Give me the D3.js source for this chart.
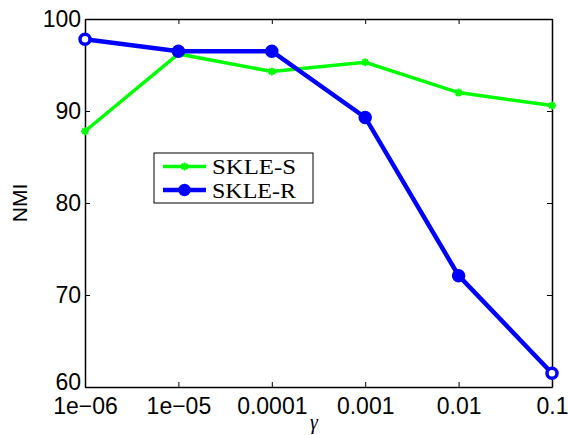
<!DOCTYPE html>
<html>
<head>
<meta charset="utf-8">
<script src="https://cdn.jsdelivr.net/npm/d3@7"></script>
<style>
  body { margin: 0; background: #fff; }
  svg { display: block; }
</style>
</head>
<body>
<svg width="568" height="435"></svg>
<script>
// 데이터
const gammas = [1e-6, 1e-5, 1e-4, 1e-3, 1e-2, 1e-1];
const tickLabels = ["1e\u221206", "1e\u221205", "0.0001", "0.001", "0.01", "0.1"];
const skleS = [87.8, 96.2, 94.3, 95.3, 92.0, 90.6];
const skleR = [97.8, 96.5, 96.5, 89.3, 72.1, 61.5];
const yTicks = [60, 70, 80, 90, 100];

const svg = d3.select("svg");
const m = { left: 85, top: 19, right: 552, bottom: 387 };

const x = d3.scaleLog().domain([1e-6, 1e-1]).range([m.left, m.right]);
const y = d3.scaleLinear().domain([60, 100]).range([m.bottom, m.top]);

// 축 (안쪽 눈금)
const font = "'Liberation Sans', Arial, sans-serif";
const serif = "'Liberation Serif', 'Times New Roman', serif";
const xAxis = svg.append("g").attr("transform", `translate(0,${m.bottom})`)
  .call(d3.axisBottom(x).tickValues(gammas).tickFormat((d, i) => tickLabels[i])
    .tickSizeInner(-5).tickSizeOuter(0).tickPadding(11));
const xTop = svg.append("g").attr("transform", `translate(0,${m.top})`)
  .call(d3.axisTop(x).tickValues(gammas).tickFormat("").tickSizeInner(-5).tickSizeOuter(0));
const yAxis = svg.append("g").attr("transform", `translate(${m.left},0)`)
  .call(d3.axisLeft(y).tickValues(yTicks).tickSizeInner(-5).tickSizeOuter(0).tickPadding(4));
const yRight = svg.append("g").attr("transform", `translate(${m.right},0)`)
  .call(d3.axisRight(y).tickValues(yTicks).tickFormat("").tickSizeInner(-5).tickSizeOuter(0));

[xAxis, xTop, yAxis, yRight].forEach(g => {
  g.select(".domain").attr("stroke", "#000").attr("stroke-width", 1.5);
  g.selectAll(".tick line").attr("stroke", "#000");
  g.selectAll("text").attr("font-family", font).attr("font-size", 23).attr("fill", "#000");
});
yAxis.selectAll(".tick text").filter(d => d === 60).attr("dy", "0.1em");

// 선
const line = d3.line().x((d, i) => x(gammas[i])).y(d => y(d));

svg.append("path").datum(skleS)
  .attr("d", line).attr("fill", "none").attr("stroke", "#00ff00").attr("stroke-width", 3.5);
svg.append("path").datum(skleR)
  .attr("d", line).attr("fill", "none").attr("stroke", "#0000ff").attr("stroke-width", 4.5);

// 별표 마커
function star(g, cx, cy, s) {
  const p = [];
  for (let k = 0; k < 4; k++) {
    const a = k * Math.PI / 4;
    p.push(`M${cx - s * Math.cos(a)},${cy - s * Math.sin(a)}L${cx + s * Math.cos(a)},${cy + s * Math.sin(a)}`);
  }
  g.append("path").attr("d", p.join("")).attr("stroke", "#00ff00").attr("stroke-width", 2).attr("fill", "none");
}
skleS.forEach((v, i) => star(svg, x(gammas[i]), y(v), 4));

const last = skleR.length - 1;
svg.selectAll(".mr").data(skleR).enter().append("circle")
  .attr("cx", (d, i) => x(gammas[i])).attr("cy", d => y(d)).attr("r", 5)
  .attr("fill", (d, i) => (i === 0 || i === last) ? "#fff" : "#0000ff")
  .attr("stroke", "#0000ff").attr("stroke-width", 3.5);

// 범례
const leg = svg.append("g");
leg.append("rect").attr("x", 154).attr("y", 153).attr("width", 159).attr("height", 50)
  .attr("fill", "#fff").attr("stroke", "#000").attr("stroke-width", 1);
const legItems = [
  { name: "SKLE-S", color: "#00ff00", ly: 166.5 },
  { name: "SKLE-R", color: "#0000ff", ly: 190 }
];
legItems.forEach((it, i) => {
  leg.append("line").attr("x1", 163).attr("x2", 206).attr("y1", it.ly).attr("y2", it.ly)
    .attr("stroke", it.color).attr("stroke-width", i === 0 ? 3.5 : 4.5);
  if (i === 0) star(leg, 184.5, it.ly, 4);
  else leg.append("circle").attr("cx", 184.5).attr("cy", it.ly).attr("r", 5)
    .attr("fill", it.color).attr("stroke", it.color).attr("stroke-width", 2.5);
  leg.append("text").attr("x", 212).attr("y", it.ly + 7.5)
    .attr("font-family", serif).attr("font-size", 21)
    .attr("textLength", 84).attr("lengthAdjust", "spacingAndGlyphs")
    .text(it.name);
});

// 축 제목
svg.append("text").attr("transform", "translate(27,203) rotate(-90)")
  .attr("text-anchor", "middle").attr("font-family", font).attr("font-size", 21).text("NMI");
svg.append("text").attr("x", 314).attr("y", 429).attr("text-anchor", "middle")
  .attr("font-family", serif).attr("font-style", "italic")
  .attr("font-size", 20).text("γ");
</script>
</body>
</html>
